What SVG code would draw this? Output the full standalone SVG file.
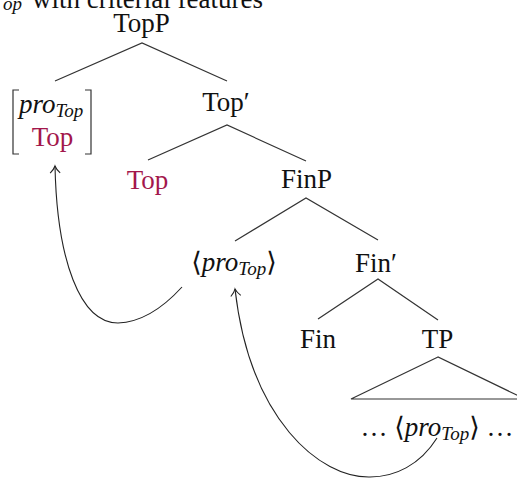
<svg xmlns="http://www.w3.org/2000/svg" width="517" height="479" viewBox="0 0 517 479">
<style>
text{font-family:"Liberation Serif","DejaVu Serif",serif;font-size:27px;fill:#111}
.it{font-style:italic}
.sub{font-size:19px;font-style:italic}
.red{fill:#a3174c}
.ln{stroke:#333;stroke-width:1.2;fill:none}
.arr{stroke:#222;stroke-width:1.1;fill:none;marker-end:url(#hd)}
</style>
<defs>
<marker id="hd" viewBox="-8 -6 10 12" refX="0" refY="0" markerWidth="10" markerHeight="12" markerUnits="userSpaceOnUse" orient="auto">
<path d="M-7,-5 Q-3,-1 0,0 Q-3,1 -7,5" fill="none" stroke="#222" stroke-width="1.1"/>
</marker>
</defs>
<rect width="517" height="479" fill="#fff"/>
<g id="caption">
<text x="3" y="10" class="sub">op</text>
<text x="32" y="8">with criterial features</text>
</g>
<g id="edges">
<path class="ln" d="M55,81 L142,43 L227,81"/>
<path class="ln" d="M148,160 L227,125 L306,161"/>
<path class="ln" d="M235,241 L306,198 L378,240"/>
<path class="ln" d="M318,319 L378,279 L438,320"/>
<path class="ln" d="M438,357 L351,399 L525,399 Z"/>
<path class="arr" d="M182,287 Q150,322 118,323 C80,323 57,260 55,166"/>
<path class="arr" d="M437,438 C420,465 395,477 370,477 C320,478 250,420 235,289"/>
</g>
<g id="TopP"><text x="141.5" y="32" text-anchor="middle">TopP</text></g>
<g id="spec">
<path class="ln" d="M19,90 L13,90 L13,154 L19,154"/>
<path class="ln" d="M85,90 L91,90 L91,154 L85,154"/>
<text x="19" y="113"><tspan class="it">pro</tspan><tspan class="sub" dy="4">Top</tspan></text>
<text x="52.5" y="146" text-anchor="middle" class="red">Top</text>
</g>
<g id="TopBar"><text x="226" y="111" text-anchor="middle">Top′</text></g>
<g id="Top"><text x="147.5" y="189" text-anchor="middle" class="red">Top</text></g>
<g id="FinP"><text x="306.5" y="188" text-anchor="middle">FinP</text></g>
<g id="pro1"><text x="234" y="271" text-anchor="middle">⟨<tspan class="it">pro</tspan><tspan class="sub" dy="4">Top</tspan><tspan dy="-4">⟩</tspan></text></g>
<g id="FinBar"><text x="376" y="272" text-anchor="middle">Fin′</text></g>
<g id="Fin"><text x="318" y="348" text-anchor="middle">Fin</text></g>
<g id="TP"><text x="437.5" y="348" text-anchor="middle">TP</text></g>
<g id="pro2"><text x="437" y="436" text-anchor="middle">… ⟨<tspan class="it">pro</tspan><tspan class="sub" dy="4">Top</tspan><tspan dy="-4">⟩ …</tspan></text></g>
</svg>
